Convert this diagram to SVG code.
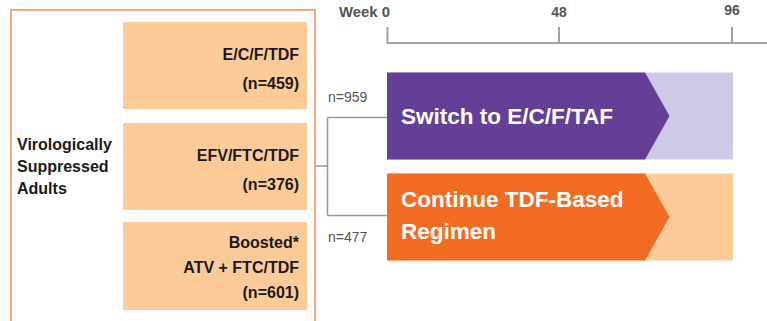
<svg xmlns="http://www.w3.org/2000/svg" width="767" height="321" viewBox="0 0 767 321">
  <style>
    .lbl { font-family: "Liberation Sans", Arial, sans-serif; font-weight: bold; font-size: 16px; fill: #1a1a1a; }
    .bar { font-family: "Liberation Sans", Arial, sans-serif; font-weight: bold; font-size: 22.5px; fill: #ffffff; }
    .axis-txt { font-family: "Liberation Sans", Arial, sans-serif; font-weight: bold; font-size: 14px; fill: #555555; }
    .n { font-family: "Liberation Sans", Arial, sans-serif; font-size: 14px; fill: #555555; }
    .arm { fill: #FDCB98; }
    .conn { fill: none; stroke: #999999; stroke-width: 1.5; }
    .axis { fill: none; stroke: #A3A3A3; stroke-width: 2; }
  </style>

  <!-- population panel -->
  <g id="population">
    <path d="M11,330 L11,10 L315,10 L315,330" fill="none" stroke="#F8A57C" stroke-width="2"/>
    <text class="lbl" x="17" y="150">Virologically</text>
    <text class="lbl" x="17" y="172">Suppressed</text>
    <text class="lbl" x="17" y="194">Adults</text>
  </g>

  <g id="arm-ecftdf">
    <rect class="arm" x="123" y="22" width="184" height="87"/>
    <text class="lbl" x="299" y="60" text-anchor="end">E/C/F/TDF</text>
    <text class="lbl" x="299" y="89" text-anchor="end">(n=459)</text>
  </g>

  <g id="arm-efv">
    <rect class="arm" x="123" y="123" width="184" height="87"/>
    <text class="lbl" x="299" y="161" text-anchor="end">EFV/FTC/TDF</text>
    <text class="lbl" x="299" y="190" text-anchor="end">(n=376)</text>
  </g>

  <g id="arm-atv">
    <rect class="arm" x="123" y="222" width="184" height="88"/>
    <text class="lbl" x="299" y="248" text-anchor="end">Boosted*</text>
    <text class="lbl" x="299" y="273" text-anchor="end">ATV + FTC/TDF</text>
    <text class="lbl" x="299" y="298" text-anchor="end">(n=601)</text>
  </g>

  <!-- week axis -->
  <g id="timeline">
    <path class="axis" d="M387.5,27 L387.5,43 L767,43 M559,27 L559,43 M732,27 L732,43"/>
    <text class="axis-txt" x="339" y="17" textLength="51" lengthAdjust="spacingAndGlyphs">Week 0</text>
    <text class="axis-txt" x="559" y="17" text-anchor="middle">48</text>
    <text class="axis-txt" x="732" y="15" text-anchor="middle">96</text>
  </g>

  <!-- randomisation connectors -->
  <g id="connectors">
    <path class="conn" d="M315,166 L327.5,166 M327.5,117.5 L327.5,215.5 M327.5,117.5 L387,117.5 M327.5,215.5 L387,215.5"/>
    <text class="n" x="328" y="102">n=959</text>
    <text class="n" x="328" y="242">n=477</text>
  </g>

  <g id="switch-arm">
    <rect x="387" y="72.5" width="346" height="87" fill="#CDC9E6"/>
    <polygon points="387,72.5 645,72.5 669.5,116 645,159.5 387,159.5" fill="#633F98"/>
    <text class="bar" x="401" y="124">Switch to E/C/F/TAF</text>
  </g>

  <g id="continue-arm">
    <rect x="387" y="173.5" width="346" height="87" fill="#FDCB98"/>
    <polygon points="387,173.5 645,173.5 669.5,217 645,260.5 387,260.5" fill="#F26D22"/>
    <text class="bar" x="401" y="207">Continue TDF-Based</text>
    <text class="bar" x="401" y="239">Regimen</text>
  </g>
</svg>
